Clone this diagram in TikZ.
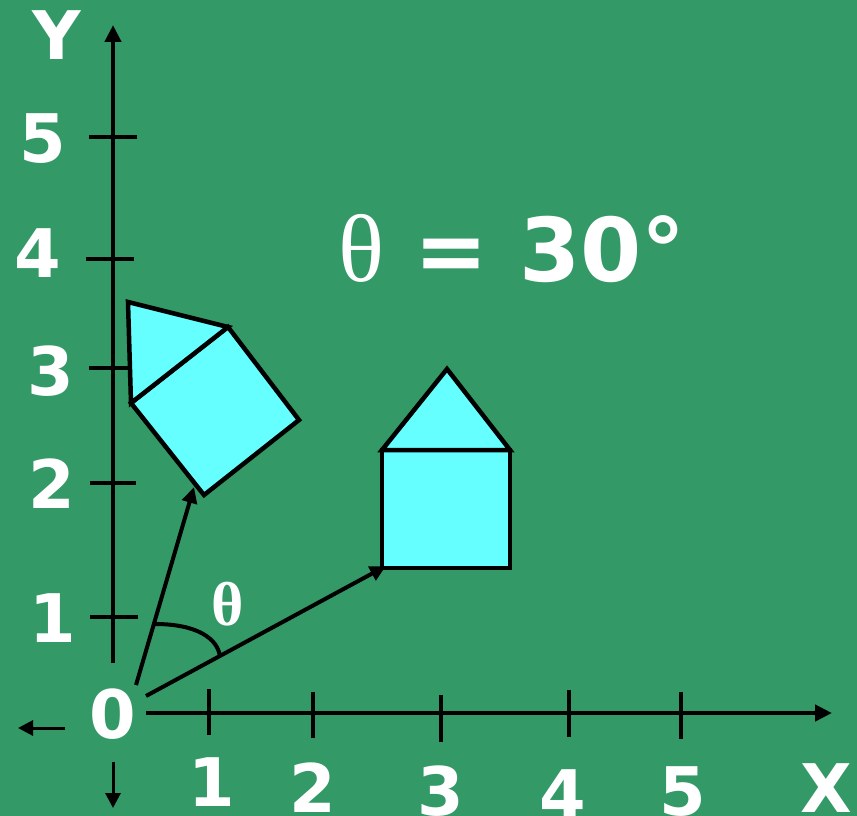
\documentclass[tikz,border=0pt]{standalone}
\usepackage{fontspec}
\setmainfont{DejaVu Sans}
\newfontfamily\thetafont{Liberation Serif}
\usetikzlibrary{arrows.meta}
\definecolor{bg}{RGB}{51,153,102}
\definecolor{cyanfill}{RGB}{102,255,255}
\begin{document}
\begin{tikzpicture}[x=1pt,y=-1pt,
  axis/.style={line width=4.5pt},
  tick/.style={line width=4.5pt},
  arr/.style={line width=4pt,-{Triangle[length=16pt,width=15pt]}},
  shapeline/.style={line width=4.5pt,fill=cyanfill,line join=miter},
  lbl/.style={text=white,font=\bfseries\fontsize{67}{67}\selectfont,inner sep=0pt}]
\fill[bg] (0,0) rectangle (857,816);
\useasboundingbox (0,0) rectangle (857,816);
% axes
\coordinate (yb) at (113,663); \coordinate (yt) at (113,25);
\coordinate (xl) at (146,713); \coordinate (xr) at (832,713);
\draw[axis,-{Triangle[length=17pt,width=16pt]}] (yb) -- (yt);
\draw[axis,-{Triangle[length=17pt,width=16pt]}] (xl) -- (xr);
% y ticks
\draw[tick] (89,137) -- (137,137);
\draw[tick] (86,259) -- (134,259);
\draw[tick] (89,368) -- (132,368);
\draw[tick] (90,483) -- (136,483);
\draw[tick] (90,617) -- (138,617);
% x ticks
\draw[tick] (209,689) -- (209,735);
\draw[tick] (313,692) -- (313,738);
\draw[tick] (441,695) -- (441,742);
\draw[tick] (569,690) -- (569,737);
\draw[tick] (681,692) -- (681,739);
% small direction arrows
\coordinate (la) at (65,728); \coordinate (lb) at (18,728);
\coordinate (da) at (113,762); \coordinate (db) at (113,808);
\draw[line width=3pt,-{Triangle[length=15pt,width=15pt]}] (la) -- (lb);
\draw[line width=3pt,-{Triangle[length=15pt,width=15pt]}] (da) -- (db);
% labels
\node[lbl] (Ylab) at (57,35) {Y};
\node[lbl] (y5) at (43,139) {5};
\node[lbl] (y4) at (38,253) {4};
\node[lbl] (y3) at (51,371) {3};
\node[lbl] (y2) at (52,484) {2};
\node[lbl] (y1) at (53,618) {1};
\node[lbl] (o) at (113,714) {0};
\node[lbl] (x1) at (212,782) {1};
\node[lbl] (x2) at (313,788) {2};
\node[lbl] (x3) at (441,791) {3};
\node[lbl] (x4) at (563,794) {4};
\node[lbl] (x5) at (683,792) {5};
\node[lbl] (Xlab) at (826,788) {X};
% houses
\draw[shapeline] (382,450) rectangle (510,568);
\draw[shapeline] (382,450) -- (447,369) -- (510,450) -- cycle;
\draw[shapeline] (131,403) -- (228,327) -- (299,420) -- (204,495) -- cycle;
\draw[shapeline] (131,403) -- (128,302) -- (228,327) -- cycle;
% vectors
\coordinate (v1s) at (136,685); \coordinate (v1e) at (194,487);
\coordinate (v2s) at (146,696); \coordinate (v2e) at (386,566);
\draw[arr] (v1s) -- (v1e);
\draw[arr] (v2s) -- (v2e);
\draw[line width=4pt] (155,624) .. controls (196,624) and (218,638) .. (220,657);
\node[text=white,inner sep=0pt,font=\thetafont\bfseries\fontsize{62}{62}\selectfont] (th) at (228,604) {θ};
% title
\node[text=white,inner sep=0pt,anchor=base west] (title) at (338,281)
  {{\thetafont\fontsize{96}{96}\selectfont θ}{\bfseries\fontsize{88}{88}\selectfont\ = 30°}};
\end{tikzpicture}
\end{document}
